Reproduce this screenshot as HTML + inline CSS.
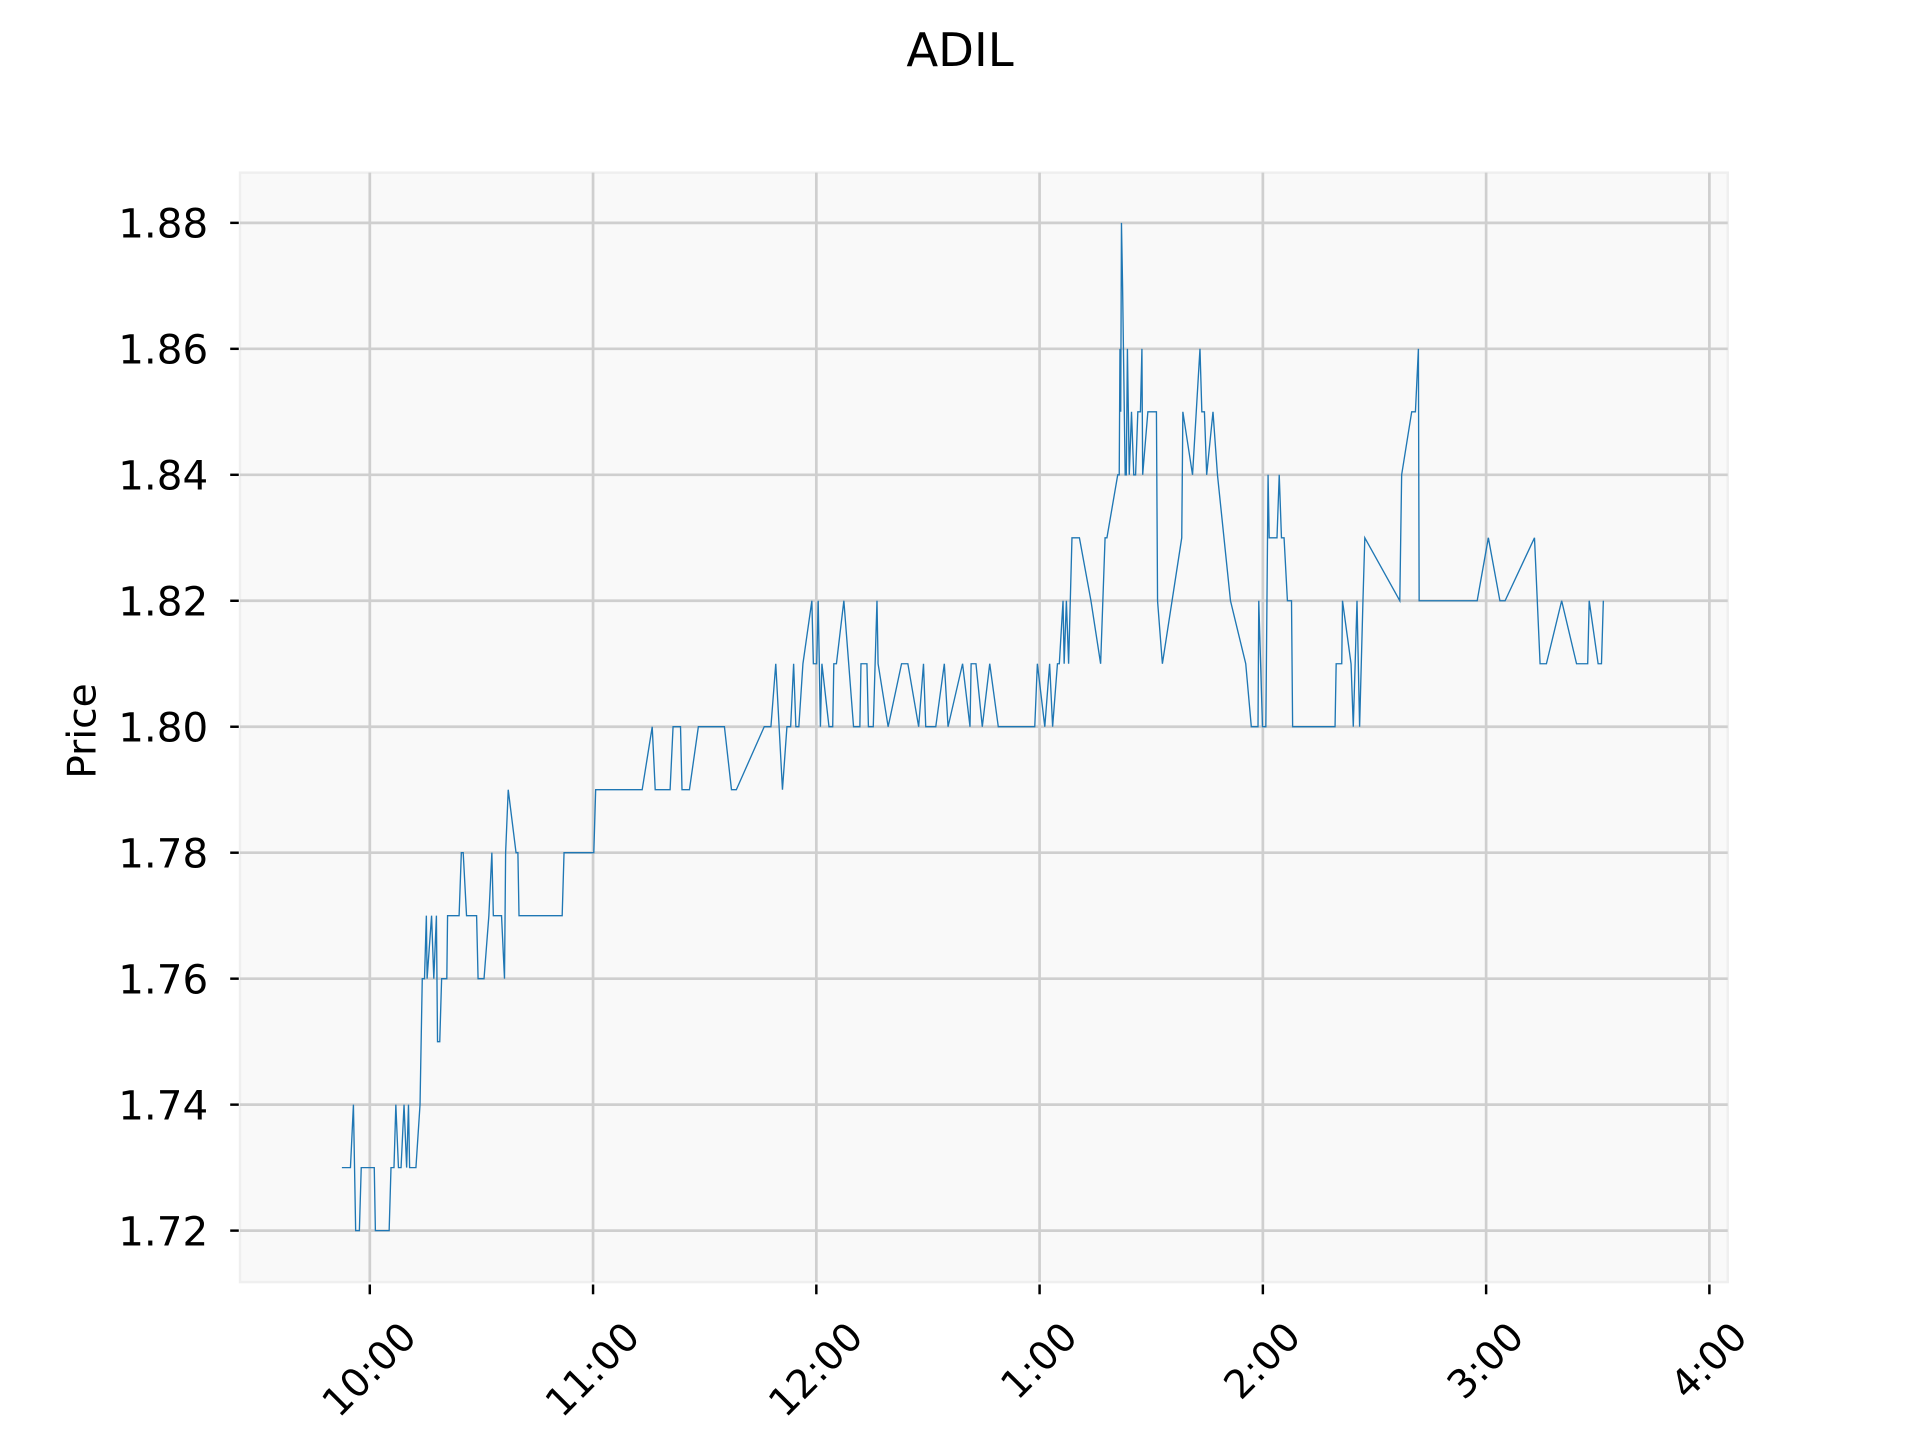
<!DOCTYPE html>
<html><head><meta charset="utf-8"><style>
html,body{margin:0;padding:0;background:#fff;}
svg{display:block;font-family:"DejaVu Sans","Liberation Sans",sans-serif;}
</style></head><body>
<svg id="chart" width="1920" height="1440" viewBox="0 0 1568 1176" xmlns="http://www.w3.org/2000/svg">
<rect x="0" y="0" width="1568" height="1176" fill="#ffffff"/>
<text x="784" y="54" font-size="38" text-anchor="middle" fill="#000">ADIL</text>
<rect x="196" y="141" width="1215" height="906" fill="#f9f9f9" stroke="#efefef" stroke-width="2"/>
<g id="grid"></g>
<g id="series"></g>
<g id="axes"></g>
<text x="0" y="0" font-size="32" text-anchor="middle" transform="translate(78,597) rotate(-90)" fill="#000">Price</text>
</svg>
<script>
// minutes after 10:00 AM
const minutes = [-7.5,-5.2,-4.4,-3.8,-2.8,-2.3,1.2,1.5,5.2,5.7,6.5,7.0,7.7,8.4,9.2,9.9,10.4,10.7,12.4,13.5,14.1,14.7,15.2,15.4,16.6,17.2,17.9,18.2,18.8,19.3,20.7,20.9,24.0,24.6,25.1,26.0,28.7,29.1,30.7,32.0,32.8,33.2,35.4,36.2,36.5,37.2,39.3,39.8,40.1,51.7,52.2,60.2,60.7,73.2,75.9,76.7,80.7,81.5,83.5,83.9,85.9,88.3,95.3,97.2,98.5,106.0,107.8,109.1,110.9,112.1,113.1,113.9,114.5,115.3,116.4,118.8,119.2,120.1,120.5,121.1,121.5,123.4,124.4,124.7,125.4,127.4,130.0,131.7,132.0,133.6,134.0,135.3,136.3,136.6,139.3,142.9,144.6,147.5,148.8,149.4,152.1,154.4,155.4,159.3,161.3,161.6,162.9,164.6,166.6,168.9,178.7,179.4,181.4,182.7,183.5,184.8,185.3,186.3,186.6,187.2,187.8,188.7,190.7,193.8,196.4,197.6,198.1,201.0,201.4,201.6,201.8,202.0,202.3,203.0,203.3,203.6,204.1,204.7,205.3,205.8,206.4,207.1,207.5,207.7,209.1,211.4,211.7,213.0,218.2,218.5,221.1,223.1,223.6,224.3,224.9,226.6,227.8,231.3,235.4,236.9,238.7,238.9,239.9,240.8,241.1,241.4,241.7,243.8,244.4,245.0,245.7,246.6,247.7,248.0,259.4,259.7,261.2,261.4,263.7,264.3,265.3,266.0,266.9,267.4,276.8,277.3,280.0,281.0,281.8,282.0,297.6,300.6,303.7,305.1,313.0,314.5,316.2,320.3,324.3,327.3,327.7,330.1,331.0,331.5];
const prices = [1.73,1.73,1.74,1.72,1.72,1.73,1.73,1.72,1.72,1.73,1.73,1.74,1.73,1.73,1.74,1.73,1.74,1.73,1.73,1.74,1.76,1.76,1.77,1.76,1.77,1.76,1.77,1.75,1.75,1.76,1.76,1.77,1.77,1.78,1.78,1.77,1.77,1.76,1.76,1.77,1.78,1.77,1.77,1.76,1.78,1.79,1.78,1.78,1.77,1.77,1.78,1.78,1.79,1.79,1.80,1.79,1.79,1.80,1.80,1.79,1.79,1.80,1.80,1.79,1.79,1.80,1.80,1.81,1.79,1.80,1.80,1.81,1.80,1.80,1.81,1.82,1.81,1.81,1.82,1.80,1.81,1.80,1.80,1.81,1.81,1.82,1.80,1.80,1.81,1.81,1.80,1.80,1.82,1.81,1.80,1.81,1.81,1.80,1.81,1.80,1.80,1.81,1.80,1.81,1.80,1.81,1.81,1.80,1.81,1.80,1.80,1.81,1.80,1.81,1.80,1.81,1.81,1.82,1.81,1.82,1.81,1.83,1.83,1.82,1.81,1.83,1.83,1.84,1.84,1.86,1.85,1.88,1.87,1.84,1.84,1.86,1.84,1.85,1.84,1.84,1.85,1.85,1.86,1.84,1.85,1.85,1.82,1.81,1.83,1.85,1.84,1.86,1.85,1.85,1.84,1.85,1.84,1.82,1.81,1.80,1.80,1.82,1.80,1.80,1.82,1.84,1.83,1.83,1.84,1.83,1.83,1.82,1.82,1.80,1.80,1.81,1.81,1.82,1.81,1.80,1.82,1.80,1.82,1.83,1.82,1.84,1.85,1.85,1.86,1.82,1.82,1.83,1.82,1.82,1.83,1.81,1.81,1.82,1.81,1.81,1.82,1.81,1.81,1.82];
const xTickMinutes = [0,60,120,180,240,300,360];
const xTickLabels = ["10:00","11:00","12:00","1:00","2:00","3:00","4:00"];
const yTicks = [1.72,1.74,1.76,1.78,1.80,1.82,1.84,1.86,1.88];
const yTickLabels = ["1.72","1.74","1.76","1.78","1.80","1.82","1.84","1.86","1.88"];

const NS = "http://www.w3.org/2000/svg";
const PL = 196, PR = 1411, PT = 141, PB = 1047;
function xScale(m){ return 302 + m * (1396 - 302) / 360; }
function yScale(p){ return 1005 - (p - 1.72) * (1005 - 182) / 0.16; }
function mk(tag, attrs, parent){
  const e = document.createElementNS(NS, tag);
  for (const k in attrs) e.setAttribute(k, attrs[k]);
  parent.appendChild(e); return e;
}
const grid = document.getElementById('grid');
const axes = document.getElementById('axes');
const series = document.getElementById('series');

xTickMinutes.forEach((m, i) => {
  const x = xScale(m);
  const g = mk('line', {x1:x, x2:x, y1:PT, y2:PB, stroke:'#cfcfcf', 'stroke-width':2.2}, grid);
  
  
  const t = mk('line', {x1:x, x2:x, y1:PB+2, y2:PB+10, stroke:'#000', 'stroke-width':2}, axes);
  
  
  const lab = xTickLabels[i];
  const fs = 32;
  let w = 0; for (const c of lab) w += (c === ':' ? 0.337 : 0.636) * fs;
  const half = (w + fs) / Math.SQRT2 / 2;
  const cy = 1075 + half;
  const tx = mk('text', {x:0, y:0, 'font-size':fs, 'text-anchor':'middle', 'dominant-baseline':'central', fill:'#000', transform:`translate(${x},${cy}) rotate(-45)`}, axes);
  tx.textContent = lab;
  
  
});
yTicks.forEach((p, i) => {
  const y = yScale(p);
  const g = mk('line', {x1:PL, x2:PR, y1:y, y2:y, stroke:'#cfcfcf', 'stroke-width':2.2}, grid);
  
  
  const t = mk('line', {x1:PL-8, x2:PL-1, y1:y, y2:y, stroke:'#000', 'stroke-width':2}, axes);
  
  
  const tx = mk('text', {x:170, y:y+12, 'font-size':33, 'text-anchor':'end', fill:'#000'}, axes);
  tx.textContent = yTickLabels[i];
  
  
});
const pts = minutes.map((m, i) => xScale(m).toFixed(2) + ',' + yScale(prices[i]).toFixed(2)).join(' ');
const line = mk('polyline', {points: pts, fill:'none', stroke:'#1f77b4', 'stroke-width':1.1, 'stroke-linejoin':'miter'}, series);


</script>
</body></html>
